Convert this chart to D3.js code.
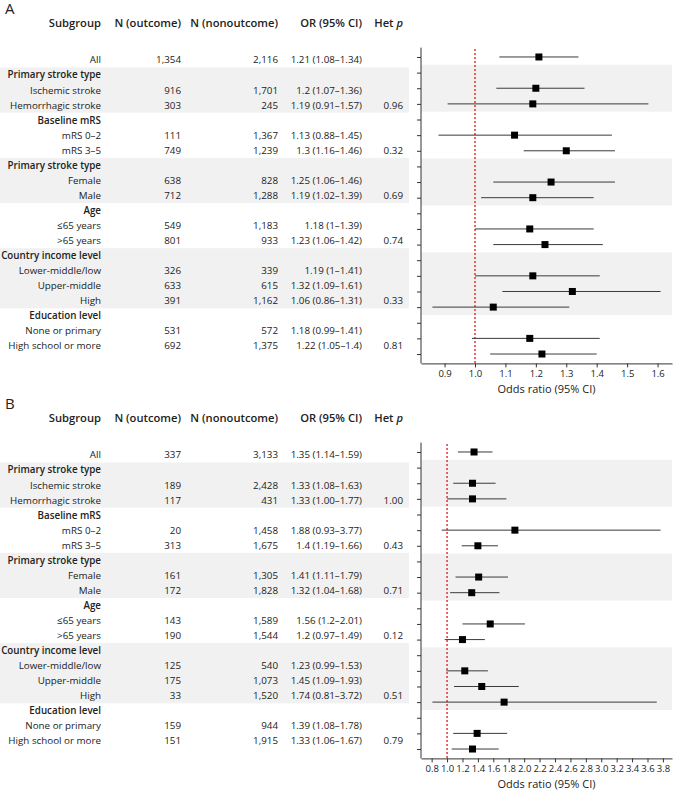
<!DOCTYPE html>
<html>
<head>
<meta charset="utf-8">
<script src="https://cdn.jsdelivr.net/npm/d3@7"></script>
<style>
  body { margin: 0; background: #fff; }
  text { font-family: "Open Sans", sans-serif; fill: #222; }
</style>
</head>
<body>
<svg id="chart" width="674" height="791"></svg>
<script>
// rows shared by both panels
const rowLabels = ["All", "Primary stroke type", "Ischemic stroke", "Hemorrhagic stroke",
  "Baseline mRS", "mRS 0–2", "mRS 3–5", "Primary stroke type", "Female", "Male",
  "Age", "≤65 years", ">65 years", "Country income level", "Lower-middle/low", "Upper-middle", "High",
  "Education level", "None or primary", "High school or more"];
const isHeader = [0, 1, 0, 0, 1, 0, 0, 1, 0, 0, 1, 0, 0, 1, 0, 0, 0, 1, 0, 0];
const shadedRows = [[1, 3], [7, 9], [13, 16]];

// panel A
const nOutcomeA = [1354, null, 916, 303, null, 111, 749, null, 638, 712, null, 549, 801, null, 326, 633, 391, null, 531, 692];
const nNonA = [2116, null, 1701, 245, null, 1367, 1239, null, 828, 1288, null, 1183, 933, null, 339, 615, 1162, null, 572, 1375];
const orA = ["1.21", null, "1.2", "1.19", null, "1.13", "1.3", null, "1.25", "1.19", null, "1.18", "1.23", null, "1.19", "1.32", "1.06", null, "1.18", "1.22"];
const loA = ["1.08", null, "1.07", "0.91", null, "0.88", "1.16", null, "1.06", "1.02", null, "1", "1.06", null, "1", "1.09", "0.86", null, "0.99", "1.05"];
const hiA = ["1.34", null, "1.36", "1.57", null, "1.45", "1.46", null, "1.46", "1.39", null, "1.39", "1.42", null, "1.41", "1.61", "1.31", null, "1.41", "1.4"];
const hetA = ["", "", "", "0.96", "", "", "0.32", "", "", "0.69", "", "", "0.74", "", "", "", "0.33", "", "", "0.81"];
const ticksA = [0.9, 1.0, 1.1, 1.2, 1.3, 1.4, 1.5, 1.6];

// panel B
const nOutcomeB = [337, null, 189, 117, null, 20, 313, null, 161, 172, null, 143, 190, null, 125, 175, 33, null, 159, 151];
const nNonB = [3133, null, 2428, 431, null, 1458, 1675, null, 1305, 1828, null, 1589, 1544, null, 540, 1073, 1520, null, 944, 1915];
const orB = ["1.35", null, "1.33", "1.33", null, "1.88", "1.4", null, "1.41", "1.32", null, "1.56", "1.2", null, "1.23", "1.45", "1.74", null, "1.39", "1.33"];
const loB = ["1.14", null, "1.08", "1.00", null, "0.93", "1.19", null, "1.11", "1.04", null, "1.2", "0.97", null, "0.99", "1.09", "0.81", null, "1.08", "1.06"];
const hiB = ["1.59", null, "1.63", "1.77", null, "3.77", "1.66", null, "1.79", "1.68", null, "2.01", "1.49", null, "1.53", "1.93", "3.72", null, "1.78", "1.67"];
const hetB = ["", "", "", "1.00", "", "", "0.43", "", "", "0.71", "", "", "0.12", "", "", "", "0.51", "", "", "0.79"];
const ticksB = [0.8, 1.0, 1.2, 1.4, 1.6, 1.8, 2.0, 2.2, 2.4, 2.6, 2.8, 3.0, 3.2, 3.4, 3.6, 3.8];

const svg = d3.select("#chart");
const fmtN = d3.format(",");
const rowSize = 9.8;
const headSize = 11.2;

function drawPanel(letter, offsetY, nOut, nNon, or, lo, hi, het, ticks, tickFmt) {
  const g = svg.append("g").attr("transform", `translate(0,${offsetY})`);
  const idx = d3.range(rowLabels.length);

  // table rows
  const ty = d3.scaleLinear().domain([0, 19]).range([60, 346]);
  const step = ty(1) - ty(0);

  // plot scales
  const y = d3.scalePoint().domain(idx).range([47.6, 363.4]).padding(0.6);
  const ext = [d3.min(lo.filter(d => d != null), d => +d), d3.max(hi.filter(d => d != null), d => +d)];
  const pad = (ext[1] - ext[0]) * 0.05;
  const x = d3.scaleLinear().domain([ext[0] - pad, ext[1] + pad]).range([421, 672]);

  // shaded bands
  shadedRows.forEach(([a, b]) => {
    g.append("rect").attr("x", 0).attr("width", 409)
      .attr("y", ty(a) - step / 2).attr("height", (b - a + 1) * step)
      .attr("fill", "#f1f1f1");
    g.append("rect").attr("x", 421).attr("width", 251)
      .attr("y", y(a) - y.step() / 2).attr("height", (b - a + 1) * y.step())
      .attr("fill", "#f1f1f1");
  });

  g.append("text").attr("x", 5).attr("y", 14)
    .style("font-size", "15px").text(letter);

  // column headers
  const cols = [
    { x: 101, label: "Subgroup" },
    { x: 181, label: "N (outcome)" },
    { x: 278, label: "N (nonoutcome)" },
    { x: 362, label: "OR (95% CI)" }
  ];
  cols.forEach(c => {
    g.append("text").attr("x", c.x).attr("y", 23).attr("dy", "0.35em")
      .attr("text-anchor", "end").style("font-size", headSize + "px")
      .style("font-weight", 600).text(c.label);
  });
  const hp = g.append("text").attr("x", 403).attr("y", 23).attr("dy", "0.35em")
    .attr("text-anchor", "end").style("font-size", headSize + "px").style("font-weight", 600);
  hp.append("tspan").text("Het ");
  hp.append("tspan").style("font-style", "italic").text("p");

  const rows = g.append("g").selectAll("g").data(idx).join("g")
    .attr("transform", i => `translate(0,${ty(i)})`)
    .style("font-size", rowSize + "px");
  rows.append("text").attr("x", 101).attr("dy", "0.35em").attr("text-anchor", "end")
    .style("font-weight", i => isHeader[i] ? 600 : null)
    .text(i => rowLabels[i]);
  rows.append("text").attr("x", 181).attr("dy", "0.35em").attr("text-anchor", "end")
    .text(i => nOut[i] == null ? "" : fmtN(nOut[i]));
  rows.append("text").attr("x", 278).attr("dy", "0.35em").attr("text-anchor", "end")
    .text(i => nNon[i] == null ? "" : fmtN(nNon[i]));
  rows.append("text").attr("x", 362).attr("dy", "0.35em").attr("text-anchor", "end")
    .text(i => or[i] == null ? "" : `${or[i]} (${lo[i]}–${hi[i]})`);
  rows.append("text").attr("x", 403).attr("dy", "0.35em").attr("text-anchor", "end")
    .text(i => het[i]);

  // reference line
  g.append("line").attr("x1", x(1)).attr("x2", x(1))
    .attr("y1", 49).attr("y2", 363.4)
    .attr("stroke", "#e8141a").attr("stroke-width", 1.3).attr("stroke-dasharray", "2,2");

  // CIs and points
  const pts = idx.filter(i => or[i] != null);
  g.append("g").selectAll("line").data(pts).join("line")
    .attr("x1", i => x(+lo[i])).attr("x2", i => x(+hi[i]))
    .attr("y1", i => y(i)).attr("y2", i => y(i))
    .attr("stroke", "#3a3a3a").attr("stroke-width", 1);
  g.append("g").selectAll("rect").data(pts).join("rect")
    .attr("x", i => x(+or[i]) - 3.5).attr("y", i => y(i) - 3.5)
    .attr("width", 7).attr("height", 7).attr("fill", "#000");

  // axes
  const yAxis = g.append("g").attr("transform", "translate(421,0)")
    .call(d3.axisLeft(y).tickSize(4).tickSizeOuter(0).tickFormat(""));
  yAxis.select(".domain").attr("stroke", "#333").attr("d", "M0,47.6V363.4");
  yAxis.selectAll(".tick line").attr("stroke", "#333");

  const xAxis = g.append("g").attr("transform", "translate(0,363.4)")
    .call(d3.axisBottom(x).tickValues(ticks).tickSize(4).tickSizeOuter(0).tickFormat(tickFmt));
  xAxis.select(".domain").attr("stroke", "#333");
  xAxis.selectAll(".tick line").attr("stroke", "#333");
  xAxis.selectAll(".tick text").attr("y", 7).style("font-family", "'Open Sans', sans-serif")
    .style("font-size", "9.5px").attr("fill", "#333");

  g.append("text").attr("x", (421 + 672) / 2).attr("y", 389).attr("dy", "0.35em")
    .attr("text-anchor", "middle").style("font-size", "11px").text("Odds ratio (95% CI)");
}

drawPanel("A", 0, nOutcomeA, nNonA, orA, loA, hiA, hetA, ticksA, d3.format(".1f"));
drawPanel("B", 395, nOutcomeB, nNonB, orB, loB, hiB, hetB, ticksB, d3.format(".1f"));
</script>
</body>
</html>
